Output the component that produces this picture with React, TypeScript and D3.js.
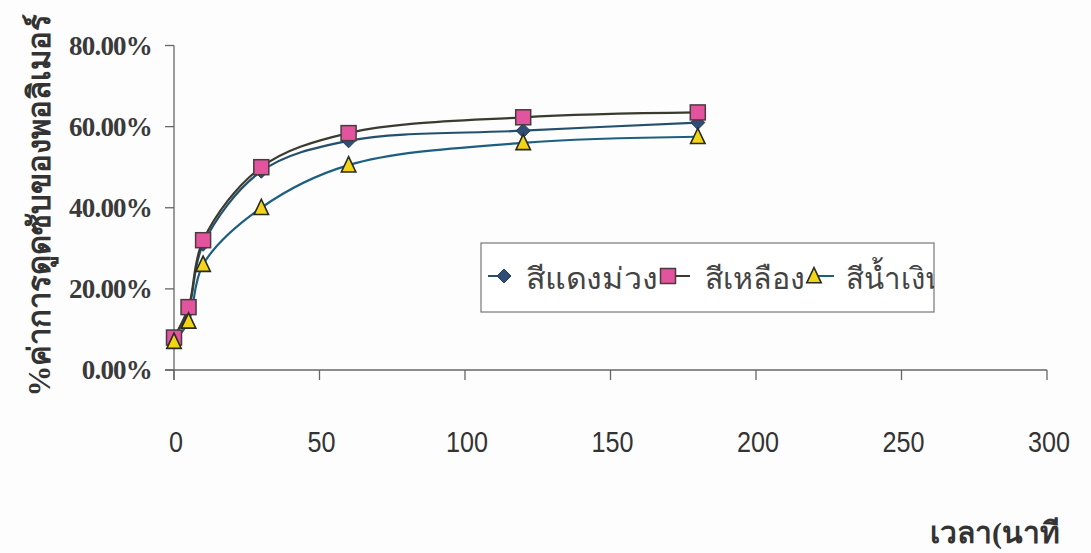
import React from "react";
import * as d3 from "d3";

const times = [0, 5, 10, 30, 60, 120, 180];
const seriesNames = ["สีแดงม่วง", "สีเหลือง", "สีน้ำเงิน"];
const purpleRed = [8, 15, 31, 49, 56.5, 59, 61];
const yellow = [8, 15.5, 32, 50, 58.4, 62.3, 63.5];
const blue = [7, 12, 26, 40, 50.5, 56, 57.5];
const xTicks = [0, 50, 100, 150, 200, 250, 300];
const yTicks = [0, 20, 40, 60, 80];
const yTickLabels = ["0.00%", "20.00%", "40.00%", "60.00%", "80.00%"];
const yTitle = "%ค่าการดูดซับของพอลิเมอร์";
const xTitle = "เวลา(นาที";

export default function App() {
  const W = 1091, H = 553;
  const x = d3.scaleLinear().domain([0, 300]).range([174, 1047]);
  const y = d3.scaleLinear().domain([0, 80]).range([370, 45.5]);
  const line = d3
    .line<number>()
    .x((_, i) => x(times[i]))
    .y((d) => y(d))
    .curve(d3.curveCatmullRom.alpha(0.5));

  const series = [
    { name: seriesNames[0], values: purpleRed, color: "#24506e", marker: "diamond" },
    { name: seriesNames[1], values: yellow, color: "#3a3a2e", marker: "square" },
    { name: seriesNames[2], values: blue, color: "#1d5f80", marker: "triangle" },
  ];

  const marker = (kind: string, cx: number, cy: number, key: string) => {
    if (kind === "diamond") {
      const s = 7;
      return (
        <path key={key} d={`M${cx},${cy - s}L${cx + s},${cy}L${cx},${cy + s}L${cx - s},${cy}Z`} fill="#2f4d75" stroke="#243a5a" strokeWidth={1} />
      );
    }
    if (kind === "square") {
      const s = 7.5;
      return <rect key={key} x={cx - s} y={cy - s} width={2 * s} height={2 * s} fill="#e2559e" stroke="#4a3a40" strokeWidth={1.5} />;
    }
    const s = 8.5;
    return (
      <path key={key} d={`M${cx},${cy - s}L${cx + s * 0.85},${cy + s * 0.8}L${cx - s * 0.85},${cy + s * 0.8}Z`} fill="#f2d516" stroke="#2a2a20" strokeWidth={1.6} />
    );
  };

  const legendItems = [
    { lx: 488, tx: 526, tl: 132 },
    { lx: 668, tx: 705, tl: 100 },
    { lx: 812, tx: 846, tl: 100 },
  ];
  const legendMarkerX = [504, 668, 814];

  return (
    <svg width={W} height={H} style={{ position: "absolute", left: 0, top: 0, background: "#fff" }}>
      <rect width={W} height={H} fill="#fdfdfd" />
      <defs>
        <clipPath id="legclip">
          <rect x={481} y={243} width={453} height={69} />
        </clipPath>
      </defs>
      {/* axes */}
      <line x1={x(0)} x2={x(0)} y1={y(80)} y2={y(0) + 10} stroke="#666" strokeWidth={1.3} />
      <line x1={x(0) - 9} x2={x(300)} y1={y(0)} y2={y(0)} stroke="#666" strokeWidth={1.3} />
      {yTicks.map((t, i) => (
        <g key={"y" + t}>
          <line x1={x(0) - 9} x2={x(0)} y1={y(t)} y2={y(t)} stroke="#666" strokeWidth={1.3} />
          <text x={152} y={y(t) + 9} textAnchor="end" fontFamily="Liberation Serif" fontWeight="bold" fontSize={27} fill="#3a3a3a" letterSpacing={-0.8}>
            {yTickLabels[i]}
          </text>
        </g>
      ))}
      {xTicks.map((t) => (
        <g key={"x" + t} transform={`translate(${x(t) + 2},452) scale(0.84,1)`}>
          <text x={0} y={0} textAnchor="middle" fontFamily="Liberation Sans" fontSize={30} fill="#333">
            {t}
          </text>
        </g>
      ))}
      {xTicks.map((t) => (
        <line key={"xt" + t} x1={x(t)} x2={x(t)} y1={y(0)} y2={y(0) + 10} stroke="#666" strokeWidth={1.3} />
      ))}
      {/* series */}
      {series.map((s) => (
        <path key={s.name} d={line(s.values) || ""} fill="none" stroke={s.color} strokeWidth={2.2} />
      ))}
      {series.map((s) => s.values.map((v, i) => marker(s.marker, x(times[i]), y(v), s.name + i)))}
      {/* legend */}
      <rect x={481} y={243} width={453} height={69} fill="#fff" stroke="#777" strokeWidth={1.2} />
      <g clipPath="url(#legclip)">
        {series.map((s, i) => (
          <g key={"leg" + i}>
            <line x1={legendItems[i].lx} x2={legendItems[i].lx + 22} y1={276} y2={276} stroke={s.color} strokeWidth={2} />
            {marker(s.marker, legendMarkerX[i], 276, "lm" + i)}
            <text x={legendItems[i].tx} y={289} fontFamily="Noto Sans, sans-serif" fontSize={30} fill="#444" textLength={legendItems[i].tl} lengthAdjust="spacingAndGlyphs">
              {s.name}
            </text>
          </g>
        ))}
      </g>
      {/* titles */}
      <text
        transform={`translate(50,${205}) rotate(-90)`}
        textAnchor="middle"
        fontFamily="Liberation Serif, serif"
        fontWeight="bold"
        fontSize={31}
        fill="#333"
      >
        {yTitle}
      </text>
      <text x={1060} y={543} textAnchor="end" fontFamily="Liberation Serif, serif" fontWeight="bold" fontSize={30} fill="#333">
        {xTitle}
      </text>
    </svg>
  );
}
